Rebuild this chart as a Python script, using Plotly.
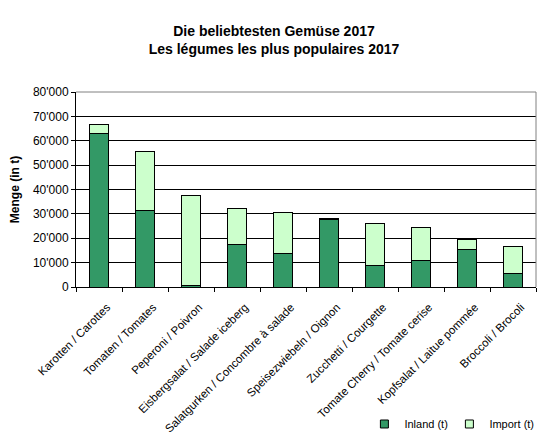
import plotly.graph_objs as go

# Gemüse (Kategorien)
gemuese = ["Karotten / Carottes", "Tomaten / Tomates", "Peperoni / Poivron",
           "Eisbergsalat / Salade iceberg", "Salatgurken / Concombre à salade",
           "Speisezwiebeln / Oignon", "Zucchetti / Courgette",
           "Tomate Cherry / Tomate cerise", "Kopfsalat / Laitue pommée",
           "Broccoli / Brocoli"]

# Mengen in Tonnen
inland = [63000, 31300, 800, 17500, 13800, 27800, 8900, 10900, 15500, 5600]
importe = [3700, 24200, 36800, 14800, 16800, 500, 17200, 13700, 4100, 11200]

y_ticks = [0, 10000, 20000, 30000, 40000, 50000, 60000, 70000, 80000]
y_labels = ["0", "10'000", "20'000", "30'000", "40'000", "50'000", "60'000", "70'000", "80'000"]

farben = {"Inland (t)": "#339966", "Import (t)": "#CCFFCC"}

fig = go.Figure()

fig.add_trace(go.Bar(
    x=gemuese, y=inland, name="Inland (t)", showlegend=False,
    marker=dict(color=farben["Inland (t)"], line=dict(color="black", width=1))
))
fig.add_trace(go.Bar(
    x=gemuese, y=importe, name="Import (t)", showlegend=False,
    marker=dict(color=farben["Import (t)"], line=dict(color="black", width=1))
))

# kleine Legendenquadrate wie im Original
for name, farbe in farben.items():
    fig.add_trace(go.Scatter(
        x=[None], y=[None], mode="markers", name=name,
        marker=dict(symbol="square", size=8, color=farbe, line=dict(color="black", width=1))
    ))

# die Seite hat 8px Rand im Browser -> Figur etwas kleiner
fig.update_layout(
    width=540, height=439,
    barmode="stack", bargap=0.6,
    paper_bgcolor="white", plot_bgcolor="white",
    font=dict(family="Liberation Sans, Arial", size=11, color="black"),
    margin=dict(l=68, r=12, t=84, b=160),
    title=dict(
        text="<b>Die beliebtesten Gemüse 2017<br>Les légumes les plus populaires 2017</b>",
        x=0.4926, xref="container", xanchor="center",
        y=0.937, yref="container", yanchor="middle",
        font=dict(size=14, color="black", family="Liberation Sans, Arial"),
    ),
    legend=dict(
        orientation="h", xref="container", yref="container",
        x=0.66, xanchor="left", y=0.0524, yanchor="middle",
        font=dict(size=11), bgcolor="rgba(0,0,0,0)",
        itemwidth=30, traceorder="normal",
        entrywidth=40, entrywidthmode="pixels",
    ),
    showlegend=True,
    shapes=[
        dict(type="line", xref="paper", yref="paper", x0=0, x1=1, y0=1, y1=1,
             line=dict(color="#808080", width=1), layer="above"),
        dict(type="line", xref="paper", yref="paper", x0=1, x1=1, y0=0, y1=1,
             line=dict(color="#808080", width=1), layer="above"),
    ],
)

fig.update_xaxes(
    tickangle=-45, showline=True, linecolor="black", linewidth=1,
    ticks="outside", tickson="boundaries", ticklen=4, tickcolor="black",
    showgrid=False, tickfont=dict(size=11.5), automargin=False,
    ticklabelstandoff=8, ticklabelshift=8,
)
fig.update_yaxes(
    range=[0, 80000], tickvals=y_ticks, ticktext=y_labels,
    showline=True, linecolor="black", linewidth=1,
    ticks="outside", ticklen=4, tickcolor="black",
    showgrid=True, gridcolor="black", gridwidth=1, zeroline=False,
    title=dict(text="<b>Menge (in t)</b>", font=dict(size=12), standoff=12),
    tickfont=dict(size=12), automargin=False,
)

fig.write_html("out.html")
